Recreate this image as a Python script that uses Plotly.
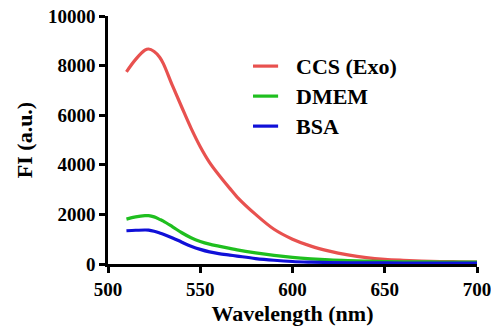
import plotly.graph_objects as go

wavelength = [510, 515, 520, 522, 525, 528, 530, 535, 540, 545, 550, 555, 560, 566, 570, 580,
              590, 600, 610, 620, 630, 640, 650, 660, 670, 680, 690, 700]
ccs_exo = [7750, 8250, 8620, 8670, 8570, 8340, 8080, 7180, 6320, 5480, 4730, 4100, 3600, 3050, 2700, 2000,
           1400, 1000, 720, 520, 370, 260, 190, 150, 120, 100, 90, 80]
dmem = [1810, 1900, 1950, 1950, 1900, 1800, 1730, 1500, 1260, 1060, 910, 800, 720, 630, 570, 450,
        350, 270, 210, 165, 135, 115, 100, 90, 85, 80, 78, 75]
bsa = [1340, 1360, 1370, 1365, 1320, 1250, 1200, 1050, 880, 720, 590, 490, 420, 360, 320, 220,
       150, 100, 75, 60, 50, 45, 42, 40, 40, 40, 40, 40]

series = [("CCS (Exo)", ccs_exo, "#e8514f"), ("DMEM", dmem, "#1fbf1f"), ("BSA", bsa, "#1010d8")]

x_ticks = [500, 550, 600, 650, 700]
y_ticks = [0, 2000, 4000, 6000, 8000, 10000]

font_family = "Liberation Serif"

fig = go.Figure()
for name, vals, color in series:
    fig.add_trace(go.Scatter(x=wavelength, y=vals, mode="lines", name=name, showlegend=False,
                             line=dict(color=color, width=3.2, shape="spline", smoothing=1.0)))

# Legend drawn as keys + text (paper coordinates)
key_x0, key_x1, text_x = 0.393, 0.461, 0.505
legend_top, legend_step = 0.798, 0.121
for i, (name, vals, color) in enumerate(series):
    yy = legend_top - i * legend_step
    fig.add_shape(type="line", xref="paper", yref="paper", x0=key_x0, x1=key_x1, y0=yy, y1=yy,
                  line=dict(color=color, width=3.2))
    fig.add_annotation(xref="paper", yref="paper", x=text_x, y=yy, xanchor="left", yanchor="middle",
                       text="<b>" + name + "</b>", showarrow=False,
                       font=dict(family=font_family, size=22, color="black"))

axis_common = dict(showline=True, linecolor="black", linewidth=2.5, ticks="outside",
                   ticklen=6, tickwidth=2.5, tickcolor="black", showgrid=False, zeroline=False,
                   automargin=False, ticklabeloverflow="allow",
                   tickfont=dict(family=font_family, size=19, color="black", weight="bold"))

fig.update_xaxes(range=[500, 700], tickvals=x_ticks, ticktext=[str(v) for v in x_ticks],
                 title=dict(text="<b>Wavelength (nm)</b>", standoff=8,
                            font=dict(family=font_family, size=22, color="black")),
                 **axis_common)
fig.update_yaxes(range=[0, 10000], tickvals=y_ticks, ticktext=[str(v) for v in y_ticks],
                 title=dict(text="<b>FI (a.u.)</b>", standoff=10,
                            font=dict(family=font_family, size=22, color="black")),
                 **axis_common)

fig.update_layout(
    width=491, height=332,
    margin=dict(l=108, r=14, t=16, b=68),
    font=dict(family=font_family, color="black"),
    plot_bgcolor="white", paper_bgcolor="white",
    showlegend=False,
)

fig.write_html("out.html", config={"displayModeBar": False},
               post_script="document.body.style.margin='0';document.body.style.overflow='hidden';")
